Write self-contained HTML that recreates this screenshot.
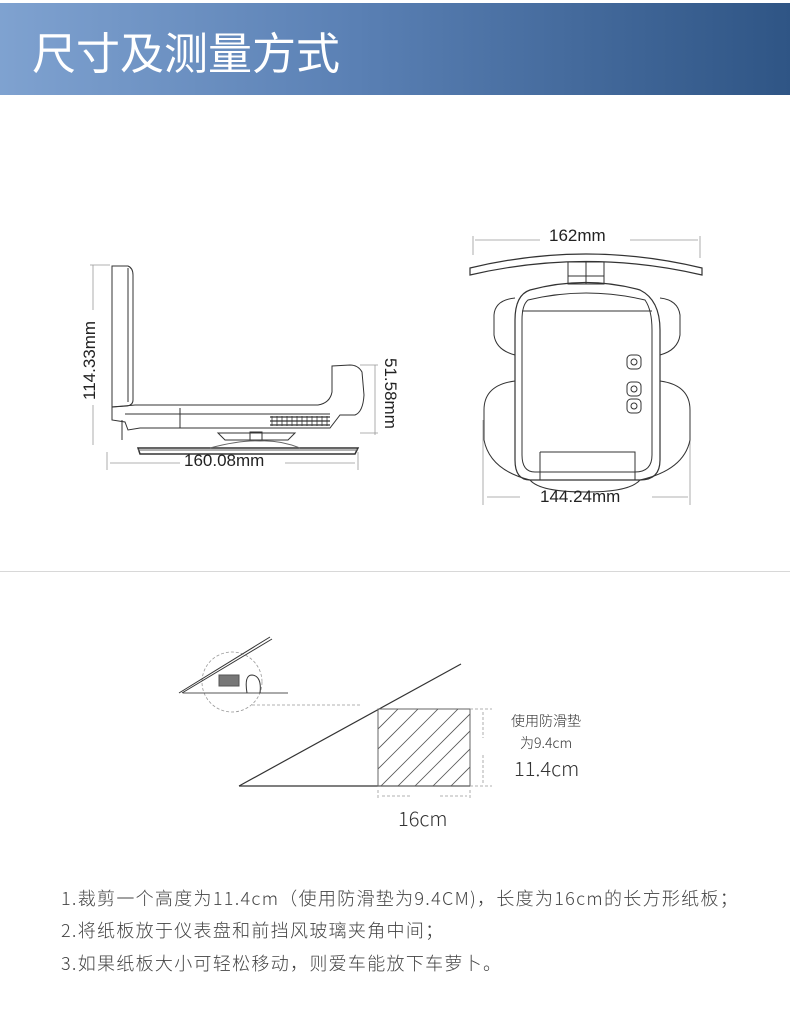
<!DOCTYPE html>
<html><head><meta charset="utf-8">
<style>
body{margin:0;width:790px;height:1021px;background:#fff;position:relative;overflow:hidden;font-family:"Liberation Sans","Noto Sans CJK SC",sans-serif;}
.hdr{position:absolute;left:0;top:3px;width:790px;height:92px;background:linear-gradient(90deg,#7fa2d0 0%,#5a80b4 45%,#2f5585 100%);}
.title{position:absolute;left:32px;top:18px;color:#fff;font-size:44px;font-family:"Noto Sans CJK SC",sans-serif;font-weight:400;white-space:nowrap;}
.t{position:absolute;white-space:nowrap;color:#333;font-family:"Noto Sans CJK SC",sans-serif;font-weight:300;}
.d{position:absolute;white-space:nowrap;color:#222;font-family:"Liberation Sans",sans-serif;font-size:17px;}
.sep{position:absolute;left:0;top:571px;width:790px;height:1px;background:#d8d8d8;}
.b{position:absolute;left:61px;white-space:nowrap;font-size:18px;color:#444;font-family:"Noto Sans CJK SC",sans-serif;font-weight:300;letter-spacing:1.3px;}
</style></head><body>
<div class="hdr"></div>
<div class="title">尺寸及测量方式</div>
<div class="sep"></div>
<svg width="790" height="1021" style="position:absolute;left:0;top:0" fill="none" stroke="#333" stroke-width="1">
<g stroke="#999" stroke-width="0.8">
<line x1="93" y1="265" x2="93" y2="310"/><line x1="93" y1="405" x2="93" y2="445"/>
<line x1="90" y1="265" x2="110" y2="265"/>
<line x1="107" y1="452" x2="107" y2="470"/><line x1="358" y1="452" x2="358" y2="470"/>
<line x1="110" y1="463" x2="180" y2="463"/><line x1="285" y1="463" x2="355" y2="463"/>
<line x1="375" y1="365" x2="375" y2="435"/><line x1="360" y1="365" x2="378" y2="365"/><line x1="360" y1="433" x2="378" y2="433"/>
</g>
<path d="M112 266 L128 266 Q133 268 133 275 L133 400 Q133 405 127 406 L112 407 Z"/>
<path d="M128 268 L128 402"/>
<path d="M112 407 L112 420 L125 422 L128 430 L140 428 L330 428 L340 415 L355 415 Q363 412 364 395 L362 372 Q358 365 350 365 L332 366 L332 392 Q330 403 318 405 L135 405 Z"/>
<line x1="125" y1="414" x2="330" y2="414"/><line x1="180" y1="408" x2="180" y2="428"/>
<line x1="122" y1="420" x2="122" y2="440"/>
<g stroke-width="1.3"><path d="M270 417 L330 417 M270 421 L330 421 M270 425 L330 425"/></g>
<g stroke-width="0.8"><path d="M272 416 V426 M277 416 V426 M282 416 V426 M287 416 V426 M292 416 V426 M297 416 V426 M302 416 V426 M307 416 V426 M312 416 V426 M317 416 V426 M322 416 V426 M327 416 V426"/></g>
<path d="M218 433 L295 433 L288 440 L225 440 Z"/>
<rect x="250" y="432" width="12" height="8"/>
<path d="M138 448 L358 448 L355 454 L140 454 Z" stroke-width="1.5"/>
<line x1="138" y1="450" x2="358" y2="450" stroke="#666"/>
<path d="M210 448 Q240 440 260 441 Q280 440 300 448" stroke="#666"/>
<g stroke="#999" stroke-width="0.8">
<line x1="473" y1="236" x2="473" y2="255"/><line x1="700" y1="236" x2="700" y2="258"/>
<line x1="475" y1="240" x2="540" y2="240"/><line x1="630" y1="240" x2="698" y2="240"/>
<line x1="483" y1="420" x2="483" y2="505"/><line x1="690" y1="420" x2="690" y2="505"/>
<line x1="487" y1="497" x2="520" y2="497"/><line x1="652" y1="497" x2="688" y2="497"/>
</g>
<path d="M470 268 Q586 240 702 268 L702 275 Q586 248 470 275 Z" stroke-width="1.2"/>
<rect x="568" y="262" width="36" height="22"/><line x1="586" y1="262" x2="586" y2="284"/><line x1="568" y1="276" x2="604" y2="276"/>
<path d="M530 290 Q586 275 640 290 Q660 300 660 330 L660 460 Q660 480 640 480 L530 480 Q515 480 515 460 L515 320 Q515 295 530 290 Z" stroke-width="1.2"/>
<path d="M528 300 Q586 286 645 300 Q652 310 652 330 L652 455 Q652 472 635 472 L535 472 Q522 472 522 455 L522 320 Q522 305 528 300 Z"/>
<line x1="522" y1="311" x2="652" y2="311"/>
<path d="M515 298 Q495 300 494 315 L494 335 Q496 350 515 355"/>
<path d="M660 298 Q678 300 680 315 L680 335 Q678 350 660 355"/>
<path d="M515 381 Q484 385 484 410 L484 440 Q490 470 530 480"/>
<path d="M660 381 Q690 385 690 410 L690 440 Q684 470 640 480"/>
<path d="M530 480 Q540 492 586 492 Q630 492 640 480"/>
<path d="M540 452 L635 452 L635 480 M540 452 L540 480"/>
<rect x="627" y="355" width="14" height="14" rx="4"/><rect x="627" y="382" width="14" height="14" rx="4"/><rect x="627" y="399" width="14" height="14" rx="4"/>
<circle cx="634" cy="362" r="3"/><circle cx="634" cy="389" r="3"/><circle cx="634" cy="406" r="3"/>
<line x1="239" y1="786" x2="470" y2="786" stroke-width="1.2"/>
<line x1="239" y1="786" x2="461" y2="664" stroke-width="1.2"/>
<defs><clipPath id="c"><rect x="378" y="709" width="92" height="77"/></clipPath></defs>
<rect x="378" y="709" width="92" height="77" stroke="#666"/>
<g clip-path="url(#c)" stroke="#555" stroke-width="0.8">
<path d="M378 729 L398 709 M378 749 L418 709 M378 769 L438 709 M378 789 L458 709 M395 789 L475 709 M412 789 L492 709 M430 789 L500 719 M448 789 L500 737"/>
</g>
<g stroke="#999" stroke-dasharray="3,2" stroke-width="0.8">
<line x1="252" y1="705" x2="362" y2="705"/>
<line x1="470" y1="709" x2="492" y2="709"/><line x1="470" y1="786" x2="492" y2="786"/>
<line x1="483" y1="712" x2="483" y2="738"/><line x1="483" y1="755" x2="483" y2="783"/>
<line x1="378" y1="790" x2="378" y2="800"/><line x1="470" y1="790" x2="470" y2="800"/>
<line x1="382" y1="796" x2="410" y2="796"/><line x1="440" y1="796" x2="467" y2="796"/>
<circle cx="232" cy="682" r="30"/>
</g>
<line x1="179" y1="693" x2="270" y2="637"/><line x1="182" y1="693" x2="272" y2="639"/>
<line x1="183" y1="693" x2="288" y2="693" stroke="#555"/>
<rect x="219" y="675" width="20" height="11" fill="#777" stroke="#555"/>
<path d="M247 693 Q244 675 252 675 Q262 676 260 693"/>
</svg>
<div class="d" style="transform:rotate(-90deg);transform-origin:0 0;top:400px;left:80px;">114.33mm</div>
<div class="d" style="left:184px;top:451px;">160.08mm</div>
<div class="d" style="left:400px;top:358px;transform:rotate(90deg);transform-origin:0 0;">51.58mm</div>
<div class="d" style="left:549px;top:226px;">162mm</div>
<div class="d" style="left:540px;top:487px;">144.24mm</div>
<div class="t" style="left:511px;top:711px;font-size:14px;">使用防滑垫</div>
<div class="t" style="left:520px;top:733px;font-size:14px;">为9.4cm</div>
<div class="t" style="left:514px;top:753px;font-size:20px;">11.4cm</div>
<div class="t" style="left:398px;top:803px;font-size:20px;">16cm</div>
<div class="b" style="top:885px;">1.裁剪一个高度为11.4cm（使用防滑垫为9.4CM)，长度为16cm的长方形纸板；</div>
<div class="b" style="top:917px;">2.将纸板放于仪表盘和前挡风玻璃夹角中间；</div>
<div class="b" style="top:950px;">3.如果纸板大小可轻松移动，则爱车能放下车萝卜。</div>
</body></html>
